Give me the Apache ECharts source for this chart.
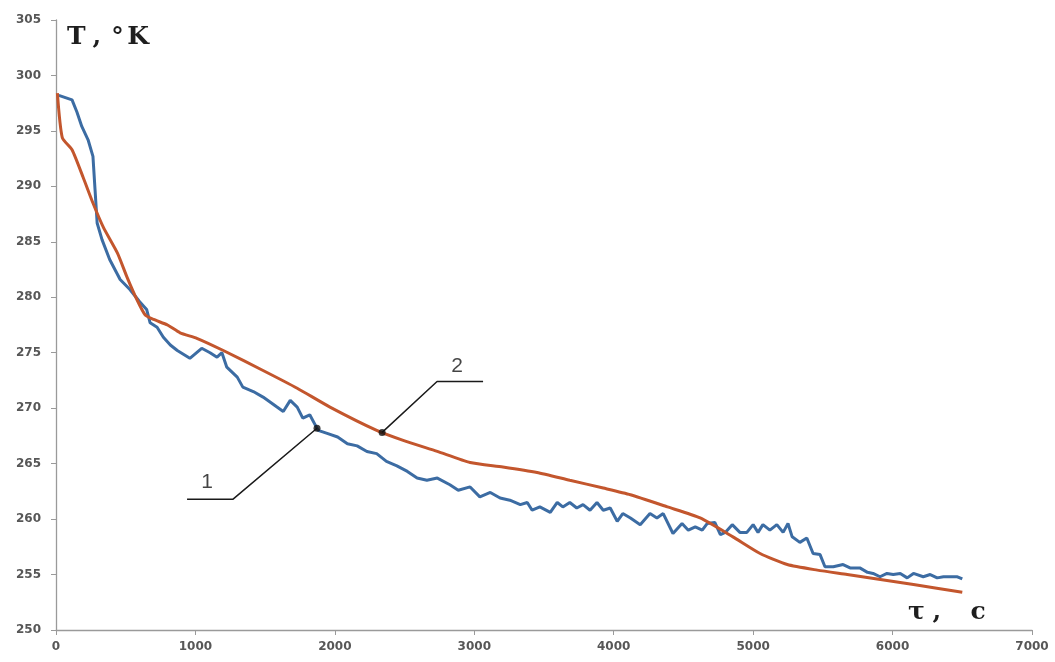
<!DOCTYPE html>
<html>
<head>
<meta charset="utf-8">
<title>T, °K</title>
<script src="https://cdn.jsdelivr.net/npm/echarts@6/dist/echarts.min.js"></script>
<style>
  html, body { margin: 0; padding: 0; background: #ffffff; }
  #chart { width: 1055px; height: 662px; }
</style>
</head>
<body>
<div id="chart"></div>
<script>
// Curve 1: measured temperature, s / K
var measuredTime = [20, 115, 150, 185, 230, 265, 280, 295, 330, 385, 460, 530, 600, 650, 675, 725, 770, 820, 870, 960,
  1045, 1105, 1155, 1190, 1225, 1300, 1340, 1415, 1485, 1585, 1630, 1680, 1730, 1770, 1820, 1880, 1950, 2020, 2090, 2160,
  2230, 2300, 2370, 2445, 2520, 2590, 2660, 2735, 2825, 2885, 2970, 3040, 3115, 3185, 3255, 3330, 3380, 3415, 3470, 3545,
  3595, 3635, 3685, 3735, 3780, 3830, 3880, 3925, 3975, 4025, 4065, 4120, 4190, 4260, 4310, 4355, 4425, 4490, 4535, 4585,
  4635, 4670, 4725, 4765, 4800, 4850, 4905, 4955, 5000, 5035, 5070, 5120, 5170, 5215, 5250, 5280, 5335, 5385, 5430, 5480,
  5515, 5575, 5645, 5695, 5765, 5820, 5860, 5910, 5960, 6005, 6055, 6105, 6150, 6220, 6270, 6320, 6365, 6415, 6465, 6500];
var measuredTemp = [298.2, 297.8, 296.7, 295.4, 294.2, 292.7, 289.7, 286.7, 285.2, 283.4, 281.6, 280.7, 279.6, 278.9, 277.7, 277.3, 276.4, 275.7, 275.2, 274.5,
  275.4, 275.0, 274.6, 275.0, 273.7, 272.8, 271.9, 271.5, 271.0, 270.1, 269.7, 270.7, 270.1, 269.1, 269.4, 268.0, 267.7, 267.4, 266.8, 266.6,
  266.1, 265.9, 265.2, 264.8, 264.3, 263.7, 263.5, 263.7, 263.1, 262.6, 262.9, 262.0, 262.4, 261.9, 261.7, 261.3, 261.5, 260.8, 261.1, 260.6,
  261.5, 261.1, 261.5, 261.0, 261.3, 260.8, 261.5, 260.8, 261.0, 259.8, 260.5, 260.1, 259.5, 260.5, 260.1, 260.5, 258.7, 259.6, 259.0, 259.3,
  259.0, 259.6, 259.7, 258.6, 258.8, 259.5, 258.8, 258.8, 259.5, 258.8, 259.5, 259.0, 259.5, 258.8, 259.6, 258.4, 257.9, 258.3, 256.9, 256.8,
  255.7, 255.7, 255.9, 255.6, 255.6, 255.2, 255.1, 254.8, 255.1, 255.0, 255.1, 254.7, 255.1, 254.8, 255.0, 254.7, 254.8, 254.8, 254.8, 254.6];

// Curve 2: calculated temperature, s / K
var calcTime = [10, 45, 115, 195, 265, 340, 440, 510, 580, 640, 700, 800, 890, 1010, 1200, 1485, 1730, 1965, 2300, 2490,
  2735, 2970, 3205, 3450, 3685, 3925, 4120, 4385, 4620, 4855, 5050, 5245, 5460, 5675, 6150, 6500];
var calcTemp = [298.4, 294.4, 293.3, 290.8, 288.5, 286.3, 284.0, 281.8, 279.8, 278.4, 278.0, 277.5, 276.8, 276.3, 275.2, 273.4, 271.8, 270.1, 268.0, 267.1,
  266.1, 265.1, 264.7, 264.2, 263.5, 262.8, 262.2, 261.1, 260.1, 258.4, 256.9, 255.9, 255.4, 255.0, 254.1, 253.4];

// Axis ticks
var timeTicks = [0, 1000, 2000, 3000, 4000, 5000, 6000, 7000];
var tempTicks = [250, 255, 260, 265, 270, 275, 280, 285, 290, 295, 300, 305];

// Curve numbers with their leader lines (time on the curve, shelf ends, number position)
var calloutText = ['1', '2'];
var calloutAnchorTime = [1872, 2339];
var calloutElbow = [[1270, 261.8], [2733, 272.4]];
var calloutShelfEnd = [[940, 261.8], [3063, 272.4]];
var calloutTextAt = [[1083, 263.3], [2877, 273.8]];

function pairs(xs, ys) {
  return xs.map(function (x, i) { return [x, ys[i]]; });
}
function valueAt(xs, ys, x) {
  for (var i = 1; i < xs.length; i++) {
    if (x <= xs[i]) {
      var f = (x - xs[i - 1]) / (xs[i] - xs[i - 1]);
      return ys[i - 1] + f * (ys[i] - ys[i - 1]);
    }
  }
  return ys[ys.length - 1];
}
// Monospaced-looking rich text: every glyph gets a box of the same width
function spaced(str) {
  return Array.from(str).map(function (ch) { return '{g|' + ch + '}'; }).join('');
}

var curves = [[measuredTime, measuredTemp], [calcTime, calcTemp]];
var anchors = calloutAnchorTime.map(function (t, i) {
  return [t, valueAt(curves[i][0], curves[i][1], t)];
});

var series = [
  {
    type: 'line', name: '1', data: pairs(measuredTime, measuredTemp),
    showSymbol: false, symbol: 'none',
    lineStyle: { color: '#3c6ca3', width: 3 }, z: 3
  },
  {
    type: 'line', name: '2', data: pairs(calcTime, calcTemp),
    showSymbol: false, symbol: 'none', smooth: 0.2,
    lineStyle: { color: '#c3562d', width: 3 }, z: 3
  }
];
calloutText.forEach(function (txt, i) {
  series.push({
    type: 'line', data: [calloutShelfEnd[i], calloutElbow[i], anchors[i]],
    symbol: 'none', lineStyle: { color: '#1a1a1a', width: 1.5 }, z: 5, silent: true
  });
  series.push({
    type: 'scatter', data: [anchors[i]], symbol: 'circle', symbolSize: 7,
    itemStyle: { color: '#111111' }, z: 6, silent: true
  });
  series.push({
    type: 'scatter', data: [calloutTextAt[i]], symbolSize: 0, z: 6, silent: true,
    label: {
      show: true, position: 'inside', formatter: txt,
      color: '#151515', fontSize: 21, fontFamily: 'Liberation Sans'
    }
  });
});

var glyph = { font: 'bold 25px "DejaVu Serif"', fill: '#1e1e1e', width: 20.6, align: 'center' };

var chart = echarts.init(document.getElementById('chart'), null, { renderer: 'canvas' });
var labelStyle = {
  color: '#575757', fontWeight: 'bold', fontSize: 12, fontFamily: 'DejaVu Sans',
  formatter: function (v) { return String(v); }
};
chart.setOption({
  animation: false,
  backgroundColor: '#ffffff',
  grid: { left: 56, right: 23, top: 20, bottom: 32 },
  xAxis: {
    type: 'value', min: timeTicks[0], max: timeTicks[timeTicks.length - 1], interval: 1000,
    axisLine: { show: true, lineStyle: { color: '#9a9a9a', width: 1.3 } },
    axisTick: { show: true, length: 5, lineStyle: { color: '#9a9a9a' } },
    splitLine: { show: false },
    axisLabel: Object.assign({ margin: 11 }, labelStyle)
  },
  yAxis: {
    type: 'value', min: tempTicks[0], max: tempTicks[tempTicks.length - 1], interval: 5,
    axisLine: { show: true, lineStyle: { color: '#9a9a9a', width: 1.3 } },
    axisTick: { show: true, length: 5, lineStyle: { color: '#9a9a9a' } },
    splitLine: { show: false },
    axisLabel: Object.assign({ margin: 15 }, labelStyle)
  },
  graphic: [
    {
      type: 'text', x: 66, y: 37, silent: true,
      style: { text: spaced('T,°K'), rich: { g: glyph }, textVerticalAlign: 'middle' }
    },
    {
      type: 'text', x: 906, y: 612, silent: true,
      style: { text: spaced('τ, c'), rich: { g: glyph }, textVerticalAlign: 'middle' }
    }
  ],
  series: series
});
</script>
</body>
</html>
